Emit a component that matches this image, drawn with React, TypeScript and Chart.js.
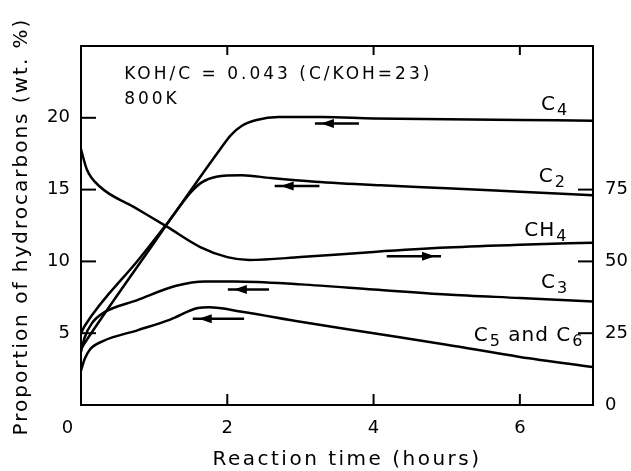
import React, { useEffect, useRef } from 'react';
import { Chart, registerables } from 'chart.js';

Chart.register(...registerables);

// ---- axis ticks ----
const timeTicks = [0, 2, 4, 6];
const leftTicks = [5, 10, 15, 20];
const rightTicks = [0, 25, 50, 75];

// ---- series (reaction time in hours, wt.% on the left axis) ----
const c4Time = [0, 0.1, 1.0, 1.9, 2.05, 2.2, 2.4, 2.7, 3.3, 4, 5, 6, 7];
const c4Pct = [3.9, 4.7, 11.3, 17.8, 18.8, 19.45, 19.85, 20.05, 20.05, 19.95, 19.9, 19.85, 19.8];

const c2Time = [0, 0.05, 0.8, 1.2, 1.5, 1.65, 1.85, 2.2, 2.6, 3.2, 4.1, 5, 6, 7];
const c2Pct = [5.0, 5.5, 10.2, 12.8, 14.8, 15.5, 15.9, 16.0, 15.8, 15.55, 15.3, 15.1, 14.85, 14.6];

const c3Time = [0, 0.05, 0.15, 0.3, 0.77, 1.3, 1.7, 2.1, 3, 4, 5, 6, 7];
const c3Pct = [3.7, 4.7, 5.7, 6.4, 7.3, 8.3, 8.6, 8.6, 8.4, 8.05, 7.7, 7.45, 7.2];

const c56Time = [0, 0.05, 0.12, 0.3, 0.77, 1.22, 1.6, 1.75, 2.2, 3, 4, 5, 6, 7];
const c56Pct = [2.4, 3.2, 3.85, 4.45, 5.2, 5.95, 6.75, 6.8, 6.5, 5.8, 5.0, 4.2, 3.35, 2.65];

// CH4 is read on the right-hand axis
const ch4Time = [0, 0.08, 0.26, 0.72, 1.18, 1.63, 2.0, 2.3, 3, 4, 5, 6, 7];
const ch4Pct = [89, 82, 76, 69, 62, 55, 51.5, 50.5, 51.5, 53.3, 54.8, 55.8, 56.5];

// ---- text ----
const xTitle = 'Reaction time (hours)';
const yTitle = 'Proportion of hydrocarbons (wt. %)';
const noteLine1 = 'KOH/C = 0.043 (C/KOH=23)';
const noteLine2 = '800K';

const FONT = '"DejaVu Sans", sans-serif';

// annotation anchors in data units (hours, left-axis wt.%)
const curveLabels: { x: number; y: number; parts: [string, string][] }[] = [
  { x: 6.29, y: 20.9, parts: [['C', '4']] },
  { x: 6.26, y: 15.87, parts: [['C', '2']] },
  { x: 6.06, y: 12.1, parts: [['CH', '4']] },
  { x: 6.29, y: 8.53, parts: [['C', '3']] },
  { x: 5.37, y: 4.83, parts: [['C', '5'], [' and C', '6']] },
];
const arrows = [
  { from: 3.8, to: 3.28, y: 19.6 },
  { from: 3.26, to: 2.73, y: 15.25 },
  { from: 4.18, to: 4.84, y: 10.35 },
  { from: 2.57, to: 2.09, y: 8.05 },
  { from: 2.23, to: 1.61, y: 6.0 },
];
const noteAnchor = { x: 0.59, y1: 23.0, y2: 21.3 };

const zip = (xs: number[], ys: number[]) => xs.map((x, i) => ({ x, y: ys[i] }));

const decorPlugin = {
  id: 'decor',
  afterDraw(chart: any) {
    const { ctx, chartArea: a, scales } = chart;
    const sx = scales.x, sy = scales.y, sy1 = scales.y1;
    ctx.save();
    ctx.strokeStyle = '#000';
    ctx.fillStyle = '#000';
    ctx.lineWidth = 2;
    ctx.lineCap = 'butt';
    const seg = (x0: number, y0: number, x1: number, y1: number) => {
      ctx.beginPath();
      ctx.moveTo(x0, y0);
      ctx.lineTo(x1, y1);
      ctx.stroke();
    };
    // top frame line
    seg(a.left - 1, a.top, a.right + 1, a.top);
    // inward ticks
    timeTicks.filter((v) => v > 0).forEach((v) => {
      const px = sx.getPixelForValue(v);
      seg(px, a.bottom, px, a.bottom - 11);
      seg(px, a.top, px, a.top + 9);
    });
    leftTicks.forEach((v) => {
      const py = sy.getPixelForValue(v);
      seg(a.left, py, a.left + 15, py);
    });
    rightTicks.filter((v) => v > 0).forEach((v) => {
      const py = sy1.getPixelForValue(v);
      seg(a.right - 15, py, a.right, py);
    });
    // arrows
    ctx.lineWidth = 2.5;
    arrows.forEach((ar) => {
      const x0 = sx.getPixelForValue(ar.from);
      const x1 = sx.getPixelForValue(ar.to);
      const py = sy.getPixelForValue(ar.y);
      const dir = Math.sign(x1 - x0);
      seg(x0, py, x1 + dir * 6, py);
      ctx.beginPath();
      ctx.moveTo(x1, py);
      ctx.lineTo(x1 - dir * 13, py - 4.5);
      ctx.lineTo(x1 - dir * 13, py + 4.5);
      ctx.closePath();
      ctx.fill();
    });
    // texts
    ctx.textBaseline = 'middle';
    ctx.textAlign = 'left';
    (ctx as any).letterSpacing = '1px';
    curveLabels.forEach((lb) => {
      let cx = sx.getPixelForValue(lb.x);
      const cy = sy.getPixelForValue(lb.y);
      lb.parts.forEach(([main, sub]) => {
        ctx.font = `20px ${FONT}`;
        ctx.fillText(main, cx, cy);
        cx += ctx.measureText(main).width;
        if (sub) {
          ctx.font = `16px ${FONT}`;
          ctx.fillText(sub, cx + 1, cy + 6);
          cx += ctx.measureText(sub).width + 1;
        }
      });
    });
    (ctx as any).letterSpacing = '3px';
    ctx.font = `17px ${FONT}`;
    const nx = sx.getPixelForValue(noteAnchor.x);
    ctx.fillText(noteLine1, nx, sy.getPixelForValue(noteAnchor.y1));
    ctx.fillText(noteLine2, nx, sy.getPixelForValue(noteAnchor.y2));
    // axis titles
    ctx.font = `20px ${FONT}`;
    ctx.textAlign = 'center';
    (ctx as any).letterSpacing = '2.5px';
    ctx.fillText(xTitle, (a.left + a.right) / 2 + 10, 460);
    (ctx as any).letterSpacing = '2px';
    ctx.translate(22, (a.top + a.bottom) / 2 + 1);
    ctx.rotate(-Math.PI / 2);
    ctx.fillText(yTitle, 0, 0);
    ctx.restore();
  },
};

export default function App() {
  const ref = useRef<HTMLCanvasElement | null>(null);
  useEffect(() => {
    if (!ref.current) return;
    const tickFont = { family: FONT, size: 18 };
    const chart = new Chart(ref.current, {
      type: 'line',
      data: {
        datasets: [
          { label: 'C4', data: zip(c4Time, c4Pct), yAxisID: 'y' },
          { label: 'C2', data: zip(c2Time, c2Pct), yAxisID: 'y' },
          { label: 'CH4', data: zip(ch4Time, ch4Pct), yAxisID: 'y1' },
          { label: 'C3', data: zip(c3Time, c3Pct), yAxisID: 'y' },
          { label: 'C5 and C6', data: zip(c56Time, c56Pct), yAxisID: 'y' },
        ].map((d) => ({
          ...d,
          borderColor: '#000',
          borderWidth: 2.5,
          pointRadius: 0,
          fill: false,
          cubicInterpolationMode: 'monotone' as const,
        })),
      },
      options: {
        animation: false,
        responsive: false,
        events: [],
        layout: { padding: { top: 46, left: 0, right: 0, bottom: 0 } },
        plugins: { legend: { display: false }, tooltip: { enabled: false } },
        scales: {
          x: {
            type: 'linear',
            min: 0,
            max: 7,
            afterBuildTicks: (s: any) => { s.ticks = timeTicks.map((v) => ({ value: v })); },
            afterFit: (s: any) => { s.height = 66; },
            ticks: {
              color: '#000',
              font: tickFont,
              padding: 13,
              maxRotation: 0,
              autoSkip: false,
              callback: (v: any) => (v === 0 ? '0\u2003\u2002' : String(v)),
            },
            grid: { drawOnChartArea: false, drawTicks: false },
            border: { color: '#000', width: 2 },
          },
          y: {
            position: 'left',
            min: 0,
            max: 25,
            afterBuildTicks: (s: any) => { s.ticks = leftTicks.map((v) => ({ value: v })); },
            afterFit: (s: any) => { s.width = 81; },
            ticks: { color: '#000', font: tickFont, padding: 11, autoSkip: false },
            grid: { drawOnChartArea: false, drawTicks: false },
            border: { color: '#000', width: 2 },
          },
          y1: {
            position: 'right',
            min: 0,
            max: 125,
            afterBuildTicks: (s: any) => { s.ticks = rightTicks.map((v) => ({ value: v })); },
            afterFit: (s: any) => { s.width = 38; },
            ticks: { color: '#000', font: tickFont, padding: 12, autoSkip: false },
            grid: { drawOnChartArea: false, drawTicks: false },
            border: { color: '#000', width: 2 },
          },
        },
      },
      plugins: [decorPlugin],
    } as any);
    return () => chart.destroy();
  }, []);
  return (
    <div style={{ position: 'absolute', left: 0, top: 0, width: 631, height: 471, background: '#fff' }}>
      <canvas ref={ref} width={631} height={471} style={{ display: 'block' }} />
    </div>
  );
}
